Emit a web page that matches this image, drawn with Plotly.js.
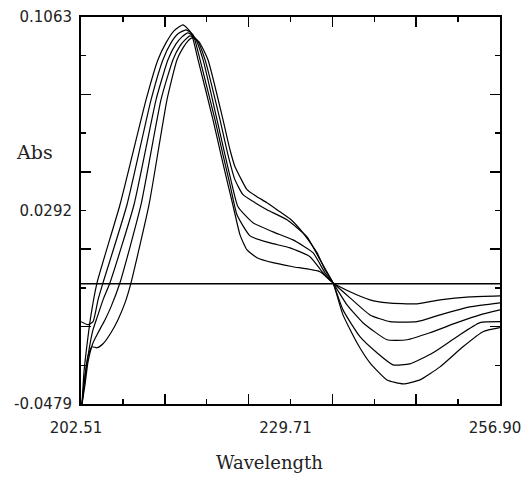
<!DOCTYPE html>
<html>
<head>
<meta charset="utf-8">
<script src="https://cdn.plot.ly/plotly-3.0.1.min.js"></script>
<style>html,body{margin:0;padding:0;background:#fff;}#chart{width:527px;height:477px;}</style>
</head>
<body>
<div id="chart"></div>
<script>
// Axis extents and tick labels
const xMin = 202.51, xMid = 229.71, xMax = 256.90;
const yMin = -0.0479, yMid = 0.0292, yMax = 0.1063;
const xTickLabels = ["202.51", "229.71", "256.90"];
const yTickLabels = ["-0.0479", "0.0292", "0.1063"];
const xTitle = "Wavelength";
const yTitle = "Abs";

// Five spectra (wavelength, absorbance)
const wl1 = [202.64, 202.90, 203.29, 203.81, 204.59, 207.57, 210.95, 212.50, 213.54, 214.58, 215.75, 216.79, 217.70, 219.64, 220.68, 221.59, 222.37, 223.15, 224.06, 225.35, 227.43, 230.03, 233.53, 235.22, 237.43, 240.02, 242.36, 246.12, 249.11, 253.00, 256.90];
const abs1 = [-0.0479, -0.0351, -0.0243, -0.0124, 0.0004, 0.0315, 0.0733, 0.0893, 0.0960, 0.1008, 0.1032, 0.1000, 0.0893, 0.0654, 0.0514, 0.0395, 0.0295, 0.0195, 0.0135, 0.0104, 0.0084, 0.0068, 0.0048, 0.0004, -0.0032, -0.0064, -0.0076, -0.0080, -0.0064, -0.0052, -0.0048];

const wl2 = [202.51, 203.42, 204.07, 204.72, 205.37, 208.48, 211.60, 213.15, 214.19, 215.10, 216.14, 217.05, 217.96, 219.90, 220.94, 221.85, 222.76, 224.45, 227.04, 229.64, 232.23, 233.92, 235.22, 237.43, 240.02, 242.62, 246.12, 249.11, 253.00, 256.90];
const abs2 = [-0.0151, -0.0163, -0.0151, -0.0064, 0.0004, 0.0315, 0.0733, 0.0893, 0.0960, 0.0996, 0.1012, 0.0992, 0.0893, 0.0654, 0.0514, 0.0395, 0.0275, 0.0191, 0.0163, 0.0143, 0.0108, 0.0044, 0.0004, -0.0056, -0.0124, -0.0151, -0.0151, -0.0124, -0.0092, -0.0076];

const wl3 = [202.64, 203.03, 203.55, 204.07, 204.59, 205.37, 206.27, 209.39, 212.25, 213.80, 214.84, 215.62, 216.40, 217.31, 218.35, 220.16, 221.20, 222.11, 222.89, 224.84, 227.43, 230.03, 232.62, 234.18, 235.22, 237.04, 239.11, 242.23, 244.83, 247.81, 251.31, 254.30, 256.90];
const abs3 = [-0.0479, -0.0375, -0.0263, -0.0183, -0.0135, -0.0064, 0.0004, 0.0315, 0.0733, 0.0893, 0.0956, 0.0984, 0.1000, 0.0980, 0.0893, 0.0654, 0.0514, 0.0395, 0.0307, 0.0243, 0.0207, 0.0175, 0.0124, 0.0044, 0.0004, -0.0084, -0.0155, -0.0223, -0.0223, -0.0195, -0.0155, -0.0124, -0.0104];

const wl4 = [202.64, 203.03, 203.42, 204.07, 204.72, 205.63, 206.40, 207.57, 210.30, 212.89, 214.45, 215.36, 216.01, 216.66, 217.57, 218.61, 220.55, 221.59, 222.50, 223.54, 225.10, 226.65, 229.25, 231.85, 233.53, 235.22, 236.52, 238.72, 240.93, 243.01, 245.21, 248.20, 251.31, 254.30, 256.90];
const abs4 = [-0.0479, -0.0402, -0.0311, -0.0235, -0.0195, -0.0143, -0.0092, 0.0004, 0.0315, 0.0733, 0.0893, 0.0948, 0.0972, 0.0988, 0.0972, 0.0893, 0.0654, 0.0514, 0.0414, 0.0355, 0.0323, 0.0295, 0.0255, 0.0187, 0.0096, 0.0004, -0.0104, -0.0211, -0.0275, -0.0323, -0.0319, -0.0275, -0.0211, -0.0155, -0.0151];

const wl5 = [202.64, 203.03, 203.42, 203.94, 204.59, 205.37, 206.40, 207.31, 208.22, 209.00, 211.34, 213.67, 214.97, 215.75, 216.40, 216.92, 217.83, 218.99, 220.94, 221.85, 222.50, 223.15, 224.06, 225.35, 226.65, 228.34, 229.64, 231.33, 233.14, 234.18, 235.22, 236.52, 238.33, 240.02, 242.23, 244.31, 246.51, 249.11, 252.09, 254.69, 256.90];
const abs5 = [-0.0479, -0.0363, -0.0287, -0.0251, -0.0255, -0.0239, -0.0195, -0.0143, -0.0076, 0.0004, 0.0315, 0.0733, 0.0893, 0.0940, 0.0968, 0.0980, 0.0964, 0.0893, 0.0654, 0.0534, 0.0466, 0.0426, 0.0375, 0.0347, 0.0323, 0.0287, 0.0259, 0.0203, 0.0124, 0.0056, 0.0004, -0.0124, -0.0235, -0.0315, -0.0383, -0.0399, -0.0383, -0.0331, -0.0251, -0.0191, -0.0175];

// Zero baseline
const baseX = [xMin, xMax];
const baseY = [0, 0];

const series = [[wl1, abs1], [wl2, abs2], [wl3, abs3], [wl4, abs4], [wl5, abs5]];
const lineStyle = {color: '#000', width: 1.2, shape: 'spline', smoothing: 0.5};

const traces = series.map(([x, y]) => ({
  type: 'scatter', mode: 'lines', x: x, y: y, line: lineStyle, hoverinfo: 'skip'
}));
traces.push({type: 'scatter', mode: 'lines', x: baseX, y: baseY, xaxis: 'x2', yaxis: 'y2',
  line: {color: '#000', width: 1.5}, hoverinfo: 'skip'});

const xStep = (xMax - xMin) / 10;
const yStep = (yMax - yMin) / 10;
const tickFont = {family: 'DejaVu Sans, Arial, sans-serif', size: 15, color: '#222'};

const layout = {
  width: 527, height: 477,
  margin: {l: 81, r: 27, t: 17, b: 73},
  paper_bgcolor: '#fff', plot_bgcolor: '#fff',
  showlegend: false,
  xaxis: {
    range: [xMin, xMax], showgrid: false, zeroline: false,
    showline: true, linecolor: '#000', linewidth: 2, mirror: 'ticks',
    tickmode: 'array', tickvals: [xMin, xMid, xMax], ticktext: xTickLabels,
    ticks: 'inside', ticklen: 5, tickwidth: 1.5, tickcolor: '#000',
    minor: {tickmode: 'linear', tick0: xMin, dtick: xStep, ticks: 'inside', ticklen: 5, tickwidth: 1.5, tickcolor: '#000', showgrid: false},
    tickfont: tickFont, ticklabelshift: -5, ticklabelstandoff: 9
  },
  yaxis: {
    range: [yMin, yMax], showgrid: false, zeroline: false,
    showline: true, linecolor: '#000', linewidth: 2, mirror: 'ticks',
    tickmode: 'array', tickvals: [yMin, yMid, yMax], ticktext: yTickLabels,
    ticks: 'inside', ticklen: 5, tickwidth: 1.5, tickcolor: '#000',
    minor: {tickmode: 'linear', tick0: yMin, dtick: yStep, ticks: 'inside', ticklen: 5, tickwidth: 1.5, tickcolor: '#000', showgrid: false},
    tickfont: tickFont, ticklabelstandoff: 4
  },
  xaxis2: {
    overlaying: 'x', anchor: 'y2', range: [xMin, xMax], showgrid: false, zeroline: false,
    showline: false, mirror: 'ticks', showticklabels: false,
    tickmode: 'linear', tick0: xMin, dtick: 2 * xStep,
    ticks: 'inside', ticklen: 10, tickwidth: 1.5, tickcolor: '#000'
  },
  yaxis2: {
    overlaying: 'y', anchor: 'x2', range: [yMin, yMax], showgrid: false, zeroline: false,
    showline: false, mirror: 'ticks', showticklabels: false,
    tickmode: 'linear', tick0: yMin, dtick: 2 * yStep,
    ticks: 'inside', ticklen: 10, tickwidth: 1.5, tickcolor: '#000'
  },
  annotations: [
    {text: yTitle, xref: 'paper', yref: 'paper', x: -0.112, y: 0.651, xanchor: 'center', yanchor: 'middle',
     showarrow: false, font: {family: 'DejaVu Serif, serif', size: 19, color: '#222'}},
    {text: xTitle, xref: 'paper', yref: 'paper', x: 0.449, y: -0.152, xanchor: 'center', yanchor: 'middle',
     showarrow: false, font: {family: 'DejaVu Serif, serif', size: 18, color: '#222'}}
  ]
};

Plotly.newPlot('chart', traces, layout, {staticPlot: true, displayModeBar: false});
</script>
</body>
</html>
